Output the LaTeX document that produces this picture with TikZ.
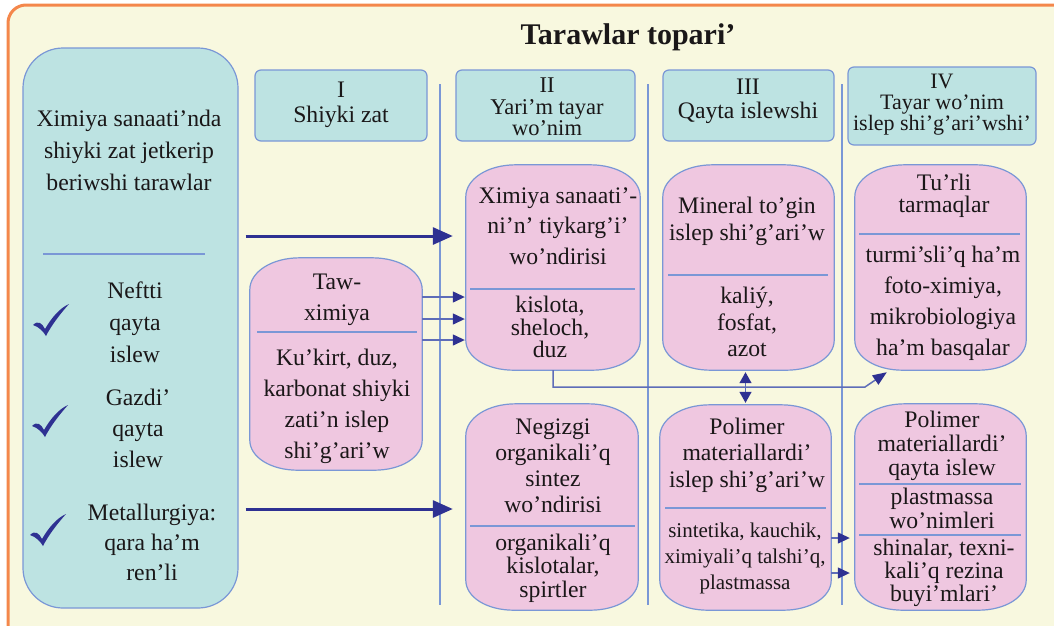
\documentclass[tikz,border=0pt]{standalone}
\usepackage{fontspec}
\setmainfont{Liberation Serif}
\usepackage{tikz}
\usetikzlibrary{arrows.meta}
\usetikzlibrary{positioning}

\definecolor{frameorange}{HTML}{F4874B}
\definecolor{cream}{HTML}{F8F8DF}
\definecolor{tealfill}{HTML}{BDE3E2}
\definecolor{pinkfill}{HTML}{EFC7E0}
\definecolor{rulecol}{HTML}{7A97D6}
\definecolor{arrowblue}{HTML}{2E3192}
\definecolor{wireblue}{HTML}{5E6DB8}
\definecolor{textblack}{HTML}{1A1718}

% pink box with oval corners, drawn round a named node
\newcommand{\cellpath}[1]{%
  \draw[draw=rulecol,fill=pinkfill,line width=1.2pt]
    ([yshift=-32pt]#1.north west)
      .. controls ([yshift=-14pt]#1.north west) and ([xshift=22pt]#1.north west)
      .. ([xshift=50pt]#1.north west)
    -- ([xshift=-50pt]#1.north east)
      .. controls ([xshift=-22pt]#1.north east) and ([yshift=-14pt]#1.north east)
      .. ([yshift=-32pt]#1.north east)
    -- ([yshift=30pt]#1.south east)
      .. controls ([yshift=13pt]#1.south east) and ([xshift=-21pt]#1.south east)
      .. ([xshift=-48pt]#1.south east)
    -- ([xshift=48pt]#1.south west)
      .. controls ([xshift=21pt]#1.south west) and ([yshift=13pt]#1.south west)
      .. ([yshift=30pt]#1.south west)
    -- cycle;}

\begin{document}
\begin{tikzpicture}[x=1pt,y=-1pt,
    txt/.style={align=center,inner sep=0pt,text=textblack,
      font=\fontsize{23.7}{#1}\selectfont},
    headbox/.style={draw=rulecol,fill=tealfill,line width=1.2pt,rounded corners=6pt},
    sidebox/.style={draw=rulecol,fill=tealfill,line width=1.2pt,rounded corners=40pt},
    cell/.style={inner sep=0pt},
    sep/.style={draw=rulecol,line width=1.2pt},
    bigarrow/.style={draw=arrowblue,line width=3pt,-{Triangle[length=20pt,width=17pt]}},
    smallarrow/.style={draw=wireblue,line width=1.3pt,
      -{Triangle[length=12pt,width=11pt,color=arrowblue]}},
    checkmk/.pic={
      \fill[arrowblue] (-12,-11) .. controls (-7,-16) and (-3,-13) .. (0,-7)
        .. controls (7,-19) and (15,-28) .. (24,-32)
        .. controls (15,-22) and (6,-10) .. (1,0)
        .. controls (-2,-5) and (-6,-9) .. cycle;
    }]
    \useasboundingbox (0,0) rectangle (1054,625);

    % FRAME
    \draw[frameorange,line width=3pt,fill=cream,rounded corners=18pt]
      (8,5) rectangle (1075,650);
    \node[font=\fontsize{30}{36}\selectfont\bfseries,text=textblack] (TITLE)
      at (628,37) {Tarawlar topari’};

    % COLUMN LINES
    \foreach \x in {440,648,842}
      \draw[sep] (\x,84) -- (\x,605);

    % LEFT COLUMN
    \node[sidebox,minimum width=215pt,minimum height=560pt] (LEFT) at (130.5,328) {};
    \node[txt=32] (LEFT_TITLE) at (129,150)
      {Ximiya sanaati’nda\\shiyki zat jetkerip\\beriwshi tarawlar};
    \node[txt=32] (NEFT) at (135,322) {Neftti\\qayta\\islew};
    \node[txt=31] (GAZ) at (138,428) {Gazdi’\\qayta\\islew};
    \node[txt=30] (METAL) at (152,542) {Metallurgiya:\\qara ha’m\\ren’li};
    \pic at (45,336) {checkmk};
    \pic at (44,437) {checkmk};
    \pic at (42,546) {checkmk};

    % HEADERS
    \node[headbox,minimum width=172pt,minimum height=71pt] (HEAD_1) at (341,105.5) {};
    \node[headbox,minimum width=179pt,minimum height=71pt] (HEAD_2) at (545.5,105.5) {};
    \node[headbox,minimum width=171pt,minimum height=71pt] (HEAD_3) at (748.5,105.5) {};
    \node[headbox,minimum width=188pt,minimum height=78pt] (HEAD_4) at (942,106) {};
    \node[txt=25] at (341,105) {I\\Shiyki zat};
    \node[txt=21.5,font=\fontsize{22.5}{21.5}\selectfont] at (547,107)
      {II\\Yari’m tayar\\wo’nim};
    \node[txt=24] at (748,101) {III\\Qayta islewshi};
    \node[txt=21,font=\fontsize{22}{21}\selectfont] at (942,105)
      {IV\\Tayar wo’nim\\islep shi’g’ari’wshi’};

    % FIRST COLUMN
    \node[cell,minimum width=172pt,minimum height=212pt] (TAW) at (336,364) {};
    \cellpath{TAW}
    \node[txt=31] (TAW_TOP) at (337,300) {Taw-\\ximiya};
    \node[txt=31] (TAW_BOT) at (337,406)
      {Ku’kirt, duz,\\karbonat shiyki\\zati’n islep\\shi’g’ari’w};

    % SECOND COLUMN
    \node[cell,minimum width=174pt,minimum height=205pt] (CHEM) at (553,267.5) {};
    \cellpath{CHEM}
    \node[txt=30.5] (CHEM_TOP) at (558,226)
      {Ximiya sanaati’-\\ni’n’ tiykarg’i’\\wo’ndirisi};
    \node[txt=22.5] (CHEM_BOT) at (550,327) {kislota,\\sheloch,\\duz};
    \node[cell,minimum width=172pt,minimum height=206pt] (ORG) at (552,507) {};
    \cellpath{ORG}
    \node[txt=26] (ORG_TOP) at (553,466)
      {Negizgi\\organikali’q\\sintez\\wo’ndirisi};
    \node[txt=23.5] (ORG_BOT) at (553,568) {organikali’q\\kislotalar,\\spirtler};

    % THIRD COLUMN
    \node[cell,minimum width=171pt,minimum height=205pt] (MINERAL) at (748.5,267.5) {};
    \cellpath{MINERAL}
    \node[txt=27] (MIN_TOP) at (747,221) {Mineral to’gin\\islep shi’g’ari’w};
    \node[txt=26.5] (MIN_BOT) at (747,322) {kaliý,\\fosfat,\\azot};
    \node[cell,minimum width=171pt,minimum height=205pt] (POLY) at (745.5,507.5) {};
    \cellpath{POLY}
    \node[txt=26.5] (POLY_TOP) at (747,455)
      {Polimer\\materiallardi’\\islep shi’g’ari’w};
    \node[txt=26,font=\fontsize{21}{26}\selectfont] (POLY_BOT) at (745,558)
      {sintetika, kauchik,\\ximiyali’q talshi’q,\\plastmassa};

    % FOURTH COLUMN
    \node[cell,minimum width=171pt,minimum height=205pt] (BRANCH) at (940.5,267.5) {};
    \cellpath{BRANCH}
    \node[txt=22] (BR_TOP) at (944,196) {Tu’rli\\tarmaqlar};
    \node[txt=31] (BR_BOT) at (943,303)
      {turmi’sli’q ha’m\\foto-ximiya,\\mikrobiologiya\\ha’m basqalar};
    \node[cell,minimum width=171pt,minimum height=206pt] (RECYC) at (940.5,507) {};
    \cellpath{RECYC}
    \node[txt=24] (REC_TOP) at (942,446) {Polimer\\materiallardi’\\qayta islew};
    \node[txt=24] (REC_MID) at (942,508) {plastmassa\\wo’nimleri};
    \node[txt=23] (REC_BOT) at (944,573)
      {shinalar, texni-\\kali’q rezina\\buyi’mlari’};

    % SEPARATORS
    \foreach \xa/\xb/\y in {43/205/254, 257/417/332, 470/635/289, 470/635/526,
        668/828/275, 665/826/508, 859/1020/234, 859/1021/484, 859/1021/535}
      \draw[sep] (\xa,\y) -- (\xb,\y);

    % LINES
    \coordinate (ROW_A) at (0,236);
    \coordinate (ROW_B) at (0,509);
    \coordinate (BEND) at (865,387);
    \draw[bigarrow,shorten <=7pt,shorten >=13pt] (LEFT.east |- ROW_A) -- (CHEM.west |- ROW_A);
    \draw[bigarrow,shorten <=7pt,shorten >=13pt] (LEFT.east |- ROW_B) -- (ORG.west |- ROW_B);
    \foreach \y in {297,319,340}
      \draw[smallarrow,shorten >=1pt] (TAW.east |- 0,\y) -- (CHEM.west |- 0,\y);
    \draw[draw=wireblue,line width=1.5pt,
      -{Triangle[length=14pt,width=11pt,color=arrowblue]}]
      (CHEM.south) |- (BEND) -- ([xshift=32pt,yshift=-2pt]BRANCH.south west);
    \draw[draw=wireblue,line width=1.3pt,shorten <=2pt,shorten >=2pt,
      {Triangle[length=11pt,width=12pt,color=arrowblue]}-{Triangle[length=11pt,width=12pt,color=arrowblue]}]
      (MINERAL.south -| POLY.north) -- (POLY.north);
    \foreach \y in {538,573}
      \draw[smallarrow,shorten >=5pt] (POLY.east |- 0,\y) -- (RECYC.west |- 0,\y);
  \end{tikzpicture}
\end{document}
